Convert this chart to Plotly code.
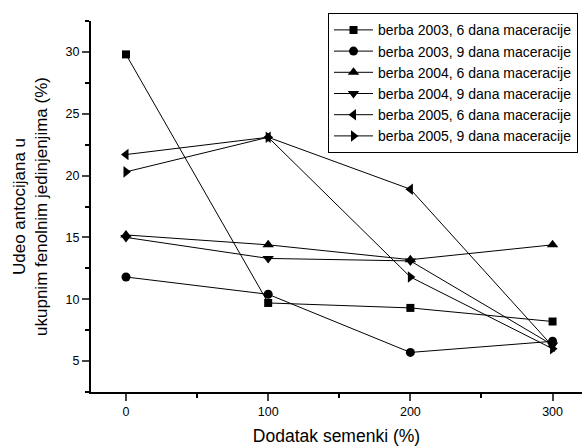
import plotly.graph_objects as go

seed_addition = [0, 100, 200, 300]
series_names = [
    "berba 2003, 6 dana maceracije",
    "berba 2003, 9 dana maceracije",
    "berba 2004, 6 dana maceracije",
    "berba 2004, 9 dana maceracije",
    "berba 2005, 6 dana maceracije",
    "berba 2005, 9 dana maceracije",
]
b2003_6 = [29.8, 9.7, 9.3, 8.2]
b2003_9 = [11.8, 10.4, 5.7, 6.6]
b2004_6 = [15.2, 14.4, 13.2, 14.4]
b2004_9 = [15.0, 13.3, 13.1, 6.3]
b2005_6 = [21.7, 23.1, 18.9, 6.2]
b2005_9 = [20.3, 23.1, 11.8, 6.0]
series_values = [b2003_6, b2003_9, b2004_6, b2004_9, b2005_6, b2005_9]
symbols = ["square", "circle", "triangle-up", "triangle-down", "triangle-left", "triangle-right"]
sizes = [8, 9, 10, 10, 10, 10]

x_ticks = [0, 100, 200, 300]
y_ticks = [5, 10, 15, 20, 25, 30]

fig = go.Figure()
for i, (name, vals) in enumerate(zip(series_names, series_values)):
    fig.add_trace(go.Scatter(
        x=seed_addition, y=vals, name=name, mode="lines+markers",
        legendgroup=f"g{i}",
        line=dict(color="black", width=1),
        marker=dict(symbol=symbols[i], size=sizes[i], color="black"),
    ))

font_family = "Liberation Sans, Arial, sans-serif"
fig.update_layout(
    width=582, height=446,
    margin=dict(l=91, r=0, t=21, b=54, autoexpand=False),
    paper_bgcolor="white", plot_bgcolor="white",
    font=dict(family=font_family, size=12.5, color="black"),
    showlegend=True,
    legend=dict(
        xref="container", yref="container",
        x=578 / 582, xanchor="right", y=1 - 13.3 / 446, yanchor="top",
        bordercolor="black", borderwidth=1, bgcolor="white",
        font=dict(size=14), tracegroupgap=0, itemwidth=39,
    ),
    xaxis=dict(
        range=[-24.6, 320.7], tickvals=x_ticks, ticks="outside", ticklen=7, tickwidth=1.5,
        showline=True, linewidth=2, linecolor="black", showgrid=False, zeroline=False,
        automargin=False,
        minor=dict(dtick=50, tick0=0, ticks="outside", ticklen=4, tickwidth=1.5, tickcolor="black"),
        title=dict(text="Dodatak semenki (%)", font=dict(size=17.5), standoff=13),
        tickfont=dict(size=12.5),
    ),
    yaxis=dict(
        range=[2.5, 32.5], tickvals=y_ticks, ticks="outside", ticklen=7, tickwidth=1.5,
        showline=True, linewidth=2, linecolor="black", showgrid=False, zeroline=False,
        automargin=False,
        minor=dict(dtick=2.5, tick0=0, ticks="outside", ticklen=4, tickwidth=1.5, tickcolor="black"),
        title=dict(text="Udeo antocijana u<br>ukupnim fenolnim jedinjenjima (%)", font=dict(size=17), standoff=14),
        tickfont=dict(size=12.5),
    ),
)

fig.write_html("out.html", config={"displayModeBar": False},
               post_script="document.body.style.margin='0';")
